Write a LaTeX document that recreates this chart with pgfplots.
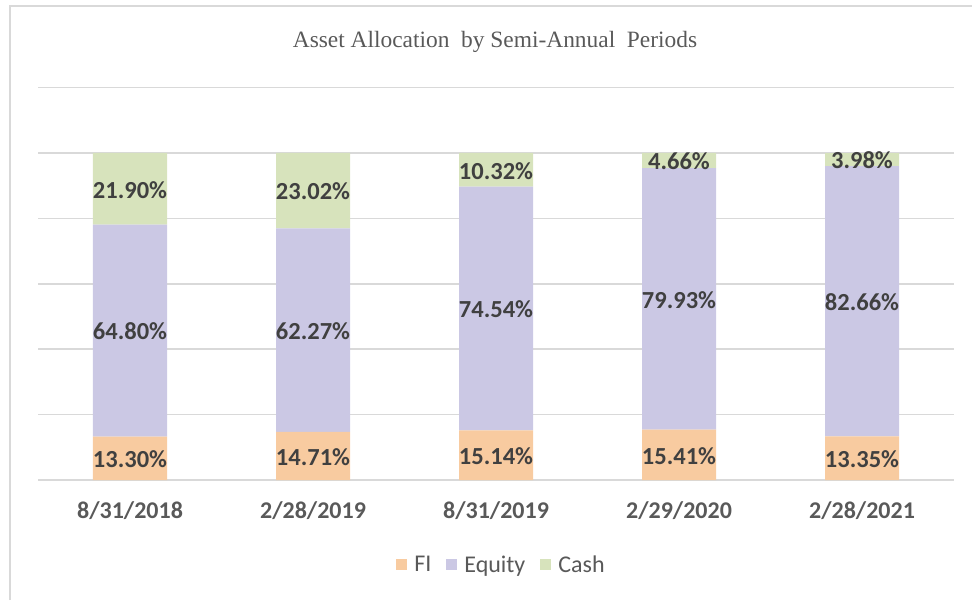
\documentclass[border=0pt]{standalone}
\usepackage{pgfplots}
\pgfplotsset{compat=1.18}
\usepackage{pgfplotstable}
\usepackage{fontspec}
\setmainfont{Carlito}
\newfontfamily\titlefont{Liberation Serif}
\definecolor{fiC}{HTML}{F8CBA0}
\definecolor{eqC}{HTML}{CBC8E4}
\definecolor{caC}{HTML}{D7E3BC}
\definecolor{gridC}{HTML}{D9D9D9}
\definecolor{txtD}{HTML}{404040}
\definecolor{txtM}{HTML}{595959}
\pgfplotstableread{
x FI Equity Cash
0 13.30 64.80 21.90
1 14.71 62.27 23.02
2 15.14 74.54 10.32
3 15.41 79.93 4.66
4 13.35 82.66 3.98
}\data
\begin{document}
\begin{tikzpicture}[x=1pt,y=1pt]
\path[use as bounding box] (0,0) rectangle (972,600);
\draw[gridC,line width=2pt] (9.5,0) -- (9.5,594) -- (972,594);
\node[font=\titlefont\fontsize{23.4}{28}\selectfont,text=txtM] at (495,558) {Asset Allocation\ \ by Semi-Annual\ \ Periods};
\begin{axis}[
  at={(38.5pt,120pt)}, anchor=south west,
  scale only axis, width=915pt, height=392.4pt,
  ybar stacked, bar width=74pt,
  xmin=-0.5, xmax=4.5, ymin=0, ymax=120,
  xtick=data,
  xticklabels={8/31/2018,2/28/2019,8/31/2019,2/29/2020,2/28/2021},
  xticklabel style={font=\bfseries\fontsize{24}{28}\selectfont, text=txtM, anchor=center, yshift=-31pt},
  ytick={0,20,...,120}, yticklabels={},
  ymajorgrids, grid style={gridC, line width=1.5pt},
  major tick length=0pt,
  axis line style={draw=none},
  clip=false,
  /pgf/number format/assume math mode=true,
  visualization depends on=rawy \as \val,
  nodes near coords={\pgfmathprintnumber[fixed,fixed zerofill,precision=2,assume math mode=true]{\val}\%},
  every node near coord/.append style={font=\bfseries\fontsize{24.5}{28}\selectfont, text=txtD, anchor=center, yshift=-1pt},
  legend style={at={(0.506,-0.2166)}, anchor=center, draw=none, fill=none,
    legend columns=3, font=\fontsize{24}{28}\selectfont, text=txtM,
    /tikz/every even column/.append style={column sep=13pt}},
  legend image code/.code={\fill[#1] (0pt,-5.5pt) rectangle (11pt,5.5pt);},
  legend style={/tikz/every odd column/.append style={column sep=5pt}},
]
\addplot[fill=fiC, draw=none] table[x=x,y=FI]{\data};
\addplot[fill=eqC, draw=none] table[x=x,y=Equity]{\data};
\addplot[fill=caC, draw=none] table[x=x,y=Cash]{\data};
\legend{FI,Equity,Cash}
\end{axis}
\end{tikzpicture}
\end{document}
